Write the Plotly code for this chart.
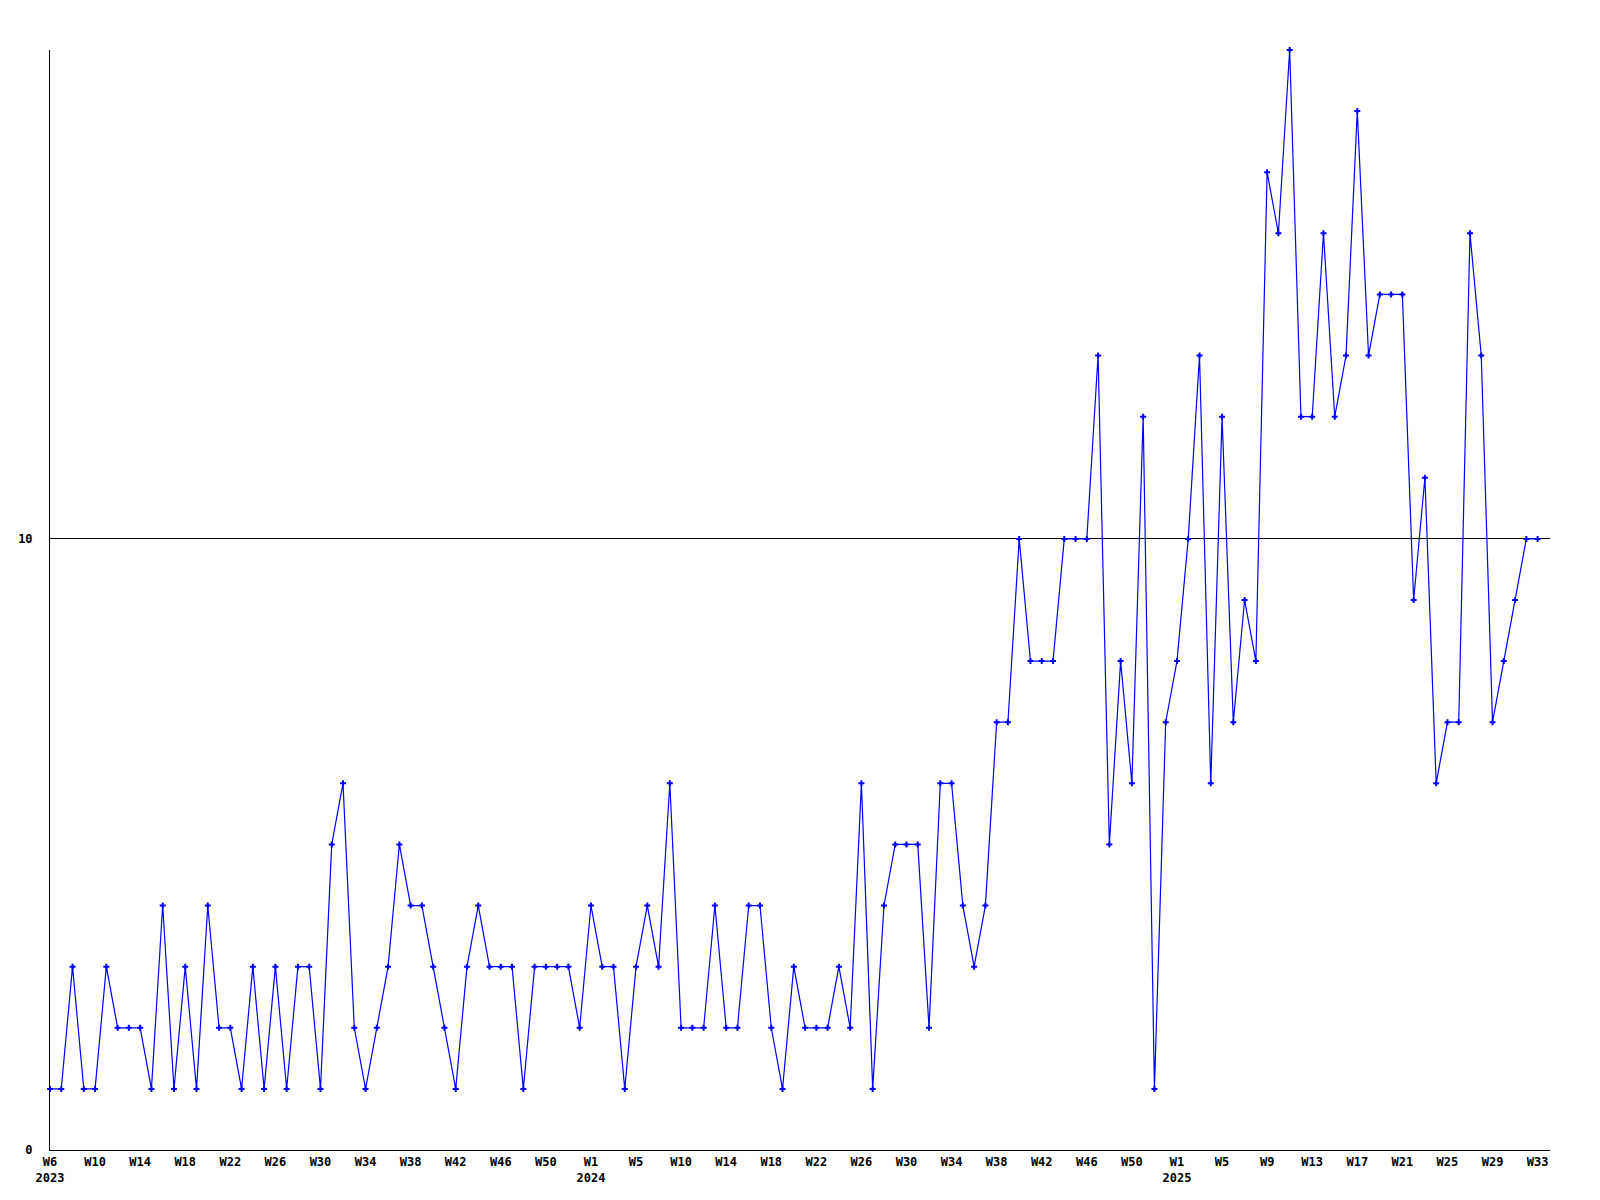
import plotly.graph_objects as go

# Week periods (year, ISO-like week number); weeks without events are absent
years = (["2023"] * 48) + (["2024"] * 52) + (["2025"] * 33)
week_numbers = (
    list(range(6, 54))
    + [1, 2, 3, 4, 5, 6, 7, 9] + list(range(10, 54))
    + list(range(1, 34))
)

values = [
    1, 1, 3, 1, 1, 3, 2, 2, 2, 1,
    4, 1, 3, 1, 4, 2, 2, 1, 3, 1,
    3, 1, 3, 3, 1, 5, 6, 2, 1, 2,
    3, 5, 4, 4, 3, 2, 1, 3, 4, 3,
    3, 3, 1, 3, 3, 3, 3, 2, 4, 3,
    3, 1, 3, 4, 3, 6, 2, 2, 2, 4,
    2, 2, 4, 4, 2, 1, 3, 2, 2, 2,
    3, 2, 6, 1, 4, 5, 5, 5, 2, 6,
    6, 4, 3, 4, 7, 7, 10, 8, 8, 8,
    10, 10, 10, 13, 5, 8, 6, 12, 1, 7,
    8, 10, 13, 6, 12, 7, 9, 8, 16, 15,
    18, 12, 12, 15, 12, 13, 17, 13, 14, 14,
    14, 9, 11, 6, 7, 7, 15, 13, 7, 8,
    9, 10, 10,
]

y_ticks = [0, 10]
label_every = 4

x = list(range(len(values)))
tickvals = x[::label_every]
ticktext = []
for i in tickvals:
    t = "W%d" % week_numbers[i]
    if i == 0 or years[i] != years[i - 1]:
        t += "<br>" + years[i]
    ticktext.append(t)

font = dict(family="DejaVu Sans Mono", size=12, color="black", weight="bold")

fig = go.Figure()
fig.add_trace(go.Scatter(
    x=x, y=values, mode="lines+markers",
    line=dict(color="#0000FF", width=1.2),
    marker=dict(symbol="cross", size=5, color="#0000FF"),
    cliponaxis=False,
    hoverinfo="skip",
))

fig.update_layout(
    template="none",
    width=1584, height=1184,
    margin=dict(l=42, r=42, t=42, b=42, pad=0),
    paper_bgcolor="white", plot_bgcolor="white",
    showlegend=False,
    font=font,
)
fig.update_xaxes(
    range=[0, 133.1], tickvals=tickvals, ticktext=ticktext,
    showline=True, linecolor="black", linewidth=1,
    showgrid=False, zeroline=False, ticks="", ticklabelstandoff=1,
    tickfont=font, tickangle=0, automargin=False,
)
fig.update_yaxes(
    range=[0, 18], tickvals=y_ticks,
    showline=True, linecolor="black", linewidth=1,
    showgrid=True, gridcolor="black", gridwidth=1,
    zeroline=False, ticks="", ticklabelstandoff=14,
    tickfont=font, automargin=False,
)

fig.write_html("out.html")
